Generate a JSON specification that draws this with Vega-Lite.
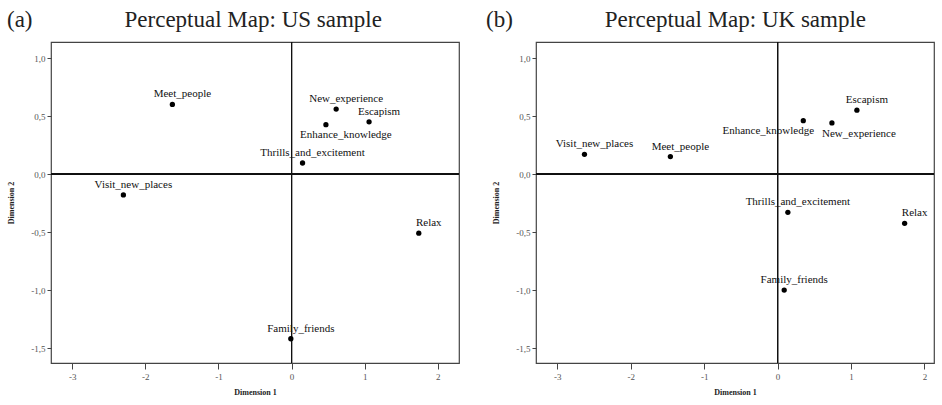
{
  "$schema": "https://vega.github.io/schema/vega-lite/v6.json",
  "padding": {"left": 6, "top": 7, "right": 0, "bottom": 0},
  "background": "white",
  "spacing": 24,
  "datasets": {
    "us": [
      {"item": "Meet_people", "dim1": -1.63, "dim2": 0.60},
      {"item": "New_experience", "dim1": 0.61, "dim2": 0.56},
      {"item": "Escapism", "dim1": 1.06, "dim2": 0.45},
      {"item": "Enhance_knowledge", "dim1": 0.47, "dim2": 0.425},
      {"item": "Thrills_and_excitement", "dim1": 0.15, "dim2": 0.095},
      {"item": "Visit_new_places", "dim1": -2.30, "dim2": -0.18},
      {"item": "Relax", "dim1": 1.74, "dim2": -0.51},
      {"item": "Family_friends", "dim1": -0.01, "dim2": -1.42}
    ],
    "uk": [
      {"item": "Escapism", "dim1": 1.08, "dim2": 0.55},
      {"item": "Enhance_knowledge", "dim1": 0.35, "dim2": 0.46},
      {"item": "New_experience", "dim1": 0.74, "dim2": 0.44},
      {"item": "Visit_new_places", "dim1": -2.63, "dim2": 0.17},
      {"item": "Meet_people", "dim1": -1.46, "dim2": 0.15},
      {"item": "Thrills_and_excitement", "dim1": 0.14, "dim2": -0.33},
      {"item": "Relax", "dim1": 1.73, "dim2": -0.425},
      {"item": "Family_friends", "dim1": 0.09, "dim2": -1.0}
    ]
  },
  "hconcat": [
    {
      "title": {"text": "(a)\u00a0\u00a0\u00a0\u00a0\u00a0\u00a0\u00a0\u00a0\u00a0\u00a0\u00a0\u00a0\u00a0\u00a0\u00a0\u00a0Perceptual Map: US sample", "anchor": "start", "frame": "group", "dx": -44},
      "width": 408,
      "height": 321,
      "data": {"name": "us"},
      "encoding": {
        "x": {"field": "dim1", "type": "quantitative", "title": "Dimension 1",
          "scale": {"domain": [-3.29, 2.29], "nice": false, "zero": false},
          "axis": {"values": [-3, -2, -1, 0, 1, 2], "format": "d"}},
        "y": {"field": "dim2", "type": "quantitative", "title": "Dimension 2",
          "scale": {"domain": [-1.629, 1.138], "nice": false, "zero": false},
          "axis": {"values": [-1.5, -1, -0.5, 0, 0.5, 1], "format": ".1f"}}
      },
      "layer": [
        {"mark": {"type": "rule", "color": "#111", "strokeWidth": 1}, "encoding": {"x": {"datum": 0}, "y": null}},
        {"mark": {"type": "rule", "color": "#111", "strokeWidth": 1}, "encoding": {"y": {"datum": 0}, "x": null}},
        {"mark": {"type": "point", "filled": true, "color": "#000", "size": 28, "opacity": 1}},
        {"transform": [{"filter": "datum.item !== 'Enhance_knowledge'"}],
          "mark": {"type": "text", "dx": 10, "dy": -10, "font": "Liberation Serif", "fontSize": 11, "color": "#111"},
          "encoding": {"text": {"field": "item"}}},
        {"transform": [{"filter": "datum.item === 'Enhance_knowledge'"}],
          "mark": {"type": "text", "dx": 20, "dy": 10, "font": "Liberation Serif", "fontSize": 11, "color": "#111"},
          "encoding": {"text": {"field": "item"}}}
      ]
    },
    {
      "title": {"text": "(b)\u00a0\u00a0\u00a0\u00a0\u00a0\u00a0\u00a0\u00a0\u00a0\u00a0\u00a0\u00a0\u00a0\u00a0\u00a0\u00a0Perceptual Map: UK sample", "anchor": "start", "frame": "group", "dx": -50},
      "width": 398,
      "height": 321,
      "data": {"name": "uk"},
      "encoding": {
        "x": {"field": "dim1", "type": "quantitative", "title": "Dimension 1",
          "scale": {"domain": [-3.29, 2.13], "nice": false, "zero": false},
          "axis": {"values": [-3, -2, -1, 0, 1, 2], "format": "d"}},
        "y": {"field": "dim2", "type": "quantitative", "title": "Dimension 2",
          "scale": {"domain": [-1.629, 1.138], "nice": false, "zero": false},
          "axis": {"values": [-1.5, -1, -0.5, 0, 0.5, 1], "format": ".1f"}}
      },
      "layer": [
        {"mark": {"type": "rule", "color": "#111", "strokeWidth": 1}, "encoding": {"x": {"datum": 0}, "y": null}},
        {"mark": {"type": "rule", "color": "#111", "strokeWidth": 1}, "encoding": {"y": {"datum": 0}, "x": null}},
        {"mark": {"type": "point", "filled": true, "color": "#000", "size": 28, "opacity": 1}},
        {"transform": [{"filter": "datum.item !== 'Enhance_knowledge' && datum.item !== 'New_experience'"}],
          "mark": {"type": "text", "dx": 10, "dy": -10, "font": "Liberation Serif", "fontSize": 11, "color": "#111"},
          "encoding": {"text": {"field": "item"}}},
        {"transform": [{"filter": "datum.item === 'Enhance_knowledge'"}],
          "mark": {"type": "text", "dx": -35, "dy": 10, "font": "Liberation Serif", "fontSize": 11, "color": "#111"},
          "encoding": {"text": {"field": "item"}}},
        {"transform": [{"filter": "datum.item === 'New_experience'"}],
          "mark": {"type": "text", "dx": 27, "dy": 11, "font": "Liberation Serif", "fontSize": 11, "color": "#111"},
          "encoding": {"text": {"field": "item"}}}
      ]
    }
  ],
  "config": {
    "locale": {"number": {"decimal": ",", "thousands": ".", "grouping": [3], "currency": ["", ""], "minus": "-"}},
    "view": {"stroke": "#444", "strokeWidth": 1.2},
    "title": {"font": "Liberation Serif", "fontSize": 23, "fontWeight": "normal", "color": "#222", "offset": 10},
    "axis": {"grid": false, "domain": false, "tickColor": "#444", "labelFont": "Liberation Serif", "labelFontSize": 9, "labelColor": "#555",
      "titleFont": "Liberation Serif", "titleFontSize": 8, "titleFontWeight": "bold", "titleColor": "#222"},
    "axisX": {"tickSize": 6, "labelPadding": 3, "titlePadding": 7},
    "axisY": {"tickSize": 4, "labelPadding": 2, "titlePadding": 8, "minExtent": 28, "maxExtent": 28}
  }
}
